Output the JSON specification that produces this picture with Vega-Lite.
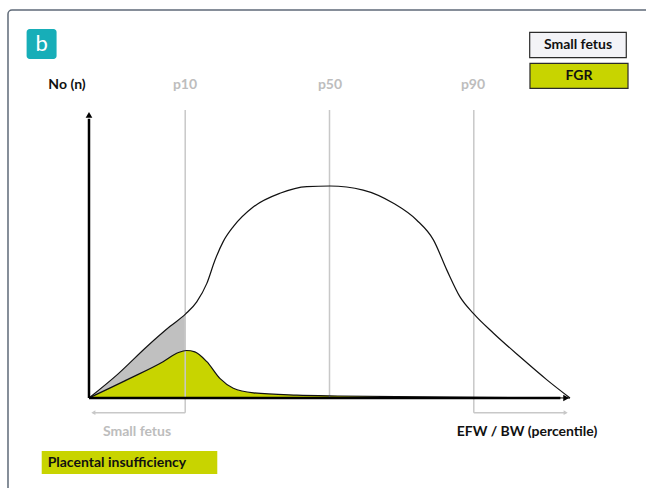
{
  "$schema": "https://vega.github.io/schema/vega-lite/v6.json",
  "width": 646,
  "height": 488,
  "padding": 0,
  "autosize": {"type": "fit", "contains": "padding"},
  "background": "white",
  "config": {"view": {"stroke": null}, "text": {"font": "Lato"}},
  "encoding": {
    "x": {"field": "x", "type": "quantitative", "scale": {"domain": [-18.503, 115.8], "nice": false, "zero": false}, "axis": null},
    "y": {"field": "y", "type": "quantitative", "scale": {"domain": [-31.25, 138.19], "nice": false, "zero": false}, "axis": null}
  },
  "layer": [
    {
      "data": {"values": [{"x": -16.84, "x2": 140, "y": 134.72, "y2": -50}]},
      "mark": {"type": "rect", "fill": null, "stroke": "#5F6A78", "strokeWidth": 1.5, "cornerRadius": 4, "clip": true},
      "encoding": {"x2": {"field": "x2"}, "y2": {"field": "y2"}}
    },
    {
      "data": {"values": [{"x": -12.97, "x2": -6.74, "y": 128.13, "y2": 117.71}]},
      "mark": {"type": "rect", "fill": "#17AEB8", "cornerRadius": 3},
      "encoding": {"x2": {"field": "x2"}, "y2": {"field": "y2"}}
    },
    {
      "data": {"values": [{"x": -9.83, "y": 123.0, "label": "b"}]},
      "mark": {"type": "text", "color": "white", "fontSize": 22, "align": "center", "baseline": "middle"},
      "encoding": {"text": {"field": "label"}}
    },
    {
      "data": {"values": [
        {"x": 91.62, "x2": 111.7, "y": 126.98, "y2": 118.19, "fill": "#F3F3F7"},
        {"x": 91.68, "x2": 112.06, "y": 116.22, "y2": 107.53, "fill": "#C8D400"}
      ]},
      "mark": {"type": "rect", "stroke": "#2B2B2B", "strokeWidth": 1.2},
      "encoding": {"x2": {"field": "x2"}, "y2": {"field": "y2"}, "fill": {"field": "fill", "type": "nominal", "scale": null}}
    },
    {
      "data": {"values": [
        {"x": 101.66, "y": 122.57, "label": "Small fetus"},
        {"x": 101.87, "y": 111.81, "label": "FGR"}
      ]},
      "mark": {"type": "text", "fontSize": 14, "fontWeight": "bold", "color": "#111111", "align": "center", "baseline": "middle"},
      "encoding": {"text": {"field": "label"}}
    },
    {
      "data": {"values": [{"x": -9.83, "x2": 26.67, "y": -18.4, "y2": -26.39}]},
      "mark": {"type": "rect", "fill": "#C8D400"},
      "encoding": {"x2": {"field": "x2"}, "y2": {"field": "y2"}}
    },
    {
      "data": {"values": [{"x": -8.6, "y": -22.4, "label": "Placental insufficiency"}]},
      "mark": {"type": "text", "fontSize": 14, "fontWeight": "bold", "color": "#111111", "align": "left", "baseline": "middle"},
      "encoding": {"text": {"field": "label"}}
    },
    {
      "data": {"values": [
        {"x": -4.57, "y": 108.68, "label": "No (n)", "c": "#111111"},
        {"x": 19.96, "y": 108.68, "label": "p10", "c": "#BDBDBD"},
        {"x": 50.1, "y": 108.68, "label": "p50", "c": "#BDBDBD"},
        {"x": 79.83, "y": 108.68, "label": "p90", "c": "#BDBDBD"},
        {"x": 9.98, "y": -11.7, "label": "Small fetus", "c": "#BDBDBD"},
        {"x": 91.06, "y": -11.7, "label": "EFW / BW (percentile)", "c": "#111111"}
      ]},
      "mark": {"type": "text", "fontSize": 14, "fontWeight": "bold", "align": "center", "baseline": "middle"},
      "encoding": {"text": {"field": "label"}, "color": {"field": "c", "type": "nominal", "scale": null}}
    },
    {
      "data": {"values": [
        {"x": 0, "y": 0}, {"x": 6, "y": 8.3}, {"x": 12, "y": 17.8}, {"x": 16.8, "y": 24.8}, {"x": 20, "y": 29.0}
      ]},
      "mark": {"type": "area", "color": "#C0C0C0", "interpolate": "monotone", "opacity": 1}
    },
    {
      "data": {"values": [
        {"x": 0, "y": 0}, {"x": 8.5, "y": 6.8}, {"x": 15.4, "y": 12.6}, {"x": 18.6, "y": 15.8}, {"x": 20.3, "y": 16.5}, {"x": 22.0, "y": 16.0}, {"x": 24.5, "y": 12.6}, {"x": 27.2, "y": 6.8}, {"x": 30, "y": 3.4}, {"x": 34.2, "y": 1.8}, {"x": 43.2, "y": 1.0}, {"x": 52.2, "y": 0.7}, {"x": 75, "y": 0.3}, {"x": 100, "y": 0}
      ]},
      "mark": {"type": "area", "color": "#C8D400", "interpolate": "monotone", "opacity": 1}
    },
    {
      "data": {"values": [
        {"x": 20, "y": 100, "y2": -5.1},
        {"x": 50, "y": 100, "y2": 0},
        {"x": 80, "y": 100, "y2": -5.1}
      ]},
      "mark": {"type": "rule", "color": "#C8C8C8", "strokeWidth": 1.5},
      "encoding": {"y2": {"field": "y2"}}
    },
    {
      "data": {"values": [
        {"x": 20, "x2": 0.8, "y": -5.1},
        {"x": 80, "x2": 99.2, "y": -5.1}
      ]},
      "mark": {"type": "rule", "color": "#C8C8C8", "strokeWidth": 1.5},
      "encoding": {"x2": {"field": "x2"}}
    },
    {
      "data": {"values": [
        {"x": 0.9, "y": -5.1, "shape": "triangle-left"},
        {"x": 99.1, "y": -5.1, "shape": "triangle-right"}
      ]},
      "mark": {"type": "point", "filled": true, "color": "#C8C8C8", "size": 22, "opacity": 1},
      "encoding": {"shape": {"field": "shape", "type": "nominal", "scale": null}}
    },
    {
      "data": {"values": [
        {"x": 0, "y": 0}, {"x": 8.5, "y": 6.8}, {"x": 15.4, "y": 12.6}, {"x": 18.6, "y": 15.8}, {"x": 20.3, "y": 16.5}, {"x": 22.0, "y": 16.0}, {"x": 24.5, "y": 12.6}, {"x": 27.2, "y": 6.8}, {"x": 30, "y": 3.4}, {"x": 34.2, "y": 1.8}, {"x": 43.2, "y": 1.0}, {"x": 52.2, "y": 0.7}, {"x": 75, "y": 0.3}, {"x": 100, "y": 0}
      ]},
      "mark": {"type": "line", "color": "#111111", "strokeWidth": 1.2, "interpolate": "monotone"}
    },
    {
      "data": {"values": [
        {"x": 0, "y": 0}, {"x": 6, "y": 8.3}, {"x": 12, "y": 17.8}, {"x": 16.8, "y": 24.8}, {"x": 20.1, "y": 29.2}, {"x": 22.4, "y": 33.4}, {"x": 24.5, "y": 39.8}, {"x": 26.2, "y": 47.9}, {"x": 27.9, "y": 54.3}, {"x": 30, "y": 59.5}, {"x": 34.2, "y": 66.4}, {"x": 39.7, "y": 71.1}, {"x": 45.3, "y": 73.4}, {"x": 50.1, "y": 73.6}, {"x": 57, "y": 72.2}, {"x": 63.3, "y": 67.6}, {"x": 68.1, "y": 61.8}, {"x": 71.6, "y": 54.9}, {"x": 74.4, "y": 44.4}, {"x": 77.1, "y": 35.2}, {"x": 80, "y": 29.2}, {"x": 84.1, "y": 22.5}, {"x": 89.6, "y": 14.3}, {"x": 95.2, "y": 6.3}, {"x": 100, "y": 0}
      ]},
      "mark": {"type": "line", "color": "#111111", "strokeWidth": 1.2, "interpolate": "monotone"}
    },
    {
      "data": {"values": [{"x": 0, "y": 0, "y2": 97}]},
      "mark": {"type": "rule", "color": "black", "strokeWidth": 2.5},
      "encoding": {"y2": {"field": "y2"}}
    },
    {
      "data": {"values": [{"x": 0, "x2": 98, "y": 0}]},
      "mark": {"type": "rule", "color": "black", "strokeWidth": 2.5},
      "encoding": {"x2": {"field": "x2"}}
    },
    {
      "data": {"values": [
        {"x": 0, "y": 98.3, "shape": "triangle-up"},
        {"x": 99.2, "y": 0, "shape": "triangle-right"}
      ]},
      "mark": {"type": "point", "filled": true, "color": "black", "size": 45, "opacity": 1},
      "encoding": {"shape": {"field": "shape", "type": "nominal", "scale": null}}
    }
  ]
}
